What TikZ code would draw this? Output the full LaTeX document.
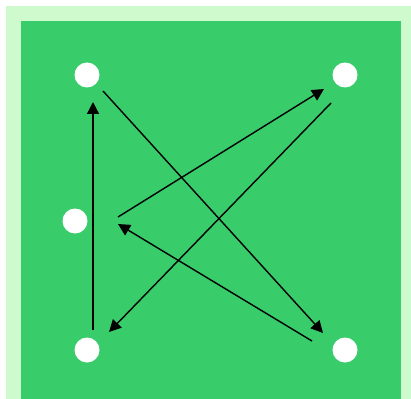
\documentclass[tikz,border=0pt]{standalone}
\usetikzlibrary{arrows.meta}

\definecolor{fieldgreen}{RGB}{56,204,106}
\definecolor{rimgreen}{RGB}{206,250,206}

\begin{document}
\begin{tikzpicture}[x=1pt, y=-1pt,
    dot/.style={circle, fill=white, minimum size=25pt, inner sep=0pt},
    link/.style={black, line width=1.4pt, -{Triangle[length=12pt, width=12pt]}}]

  % Page and frame (picture is cut at 411 x 398)
  \useasboundingbox (0, 0) rectangle (411, 398);
  \clip (0, 0) rectangle (411, 398);
  \fill[white]      (0,  0) rectangle (411, 398);
  \fill[rimgreen]   (6,  6) rectangle (416, 413);
  \fill[fieldgreen] (21, 21) rectangle (401, 401);

  % Dots
  \node[dot] (tl) at ( 87,  75) {};
  \node[dot] (tr) at (345,  75) {};
  \node[dot] (ml) at ( 75, 221) {};
  \node[dot] (bl) at ( 87, 350) {};
  \node[dot] (br) at (345, 350) {};

  % Arrows
  \draw[link] ([shift={(6,-20)}]bl.center)   -- ([shift={(6,27)}]tl.center);
  \draw[link] ([shift={(16,16)}]tl.center)   -- ([shift={(-22,-17)}]br.center);
  \draw[link] ([shift={(-33,-9)}]br.center)  -- ([shift={(43,3)}]ml.center);
  \draw[link] ([shift={(43,-4)}]ml.center)   -- ([shift={(-21,14)}]tr.center);
  \draw[link] ([shift={(-14,28)}]tr.center)  -- ([shift={(22,-18)}]bl.center);

\end{tikzpicture}
\end{document}
